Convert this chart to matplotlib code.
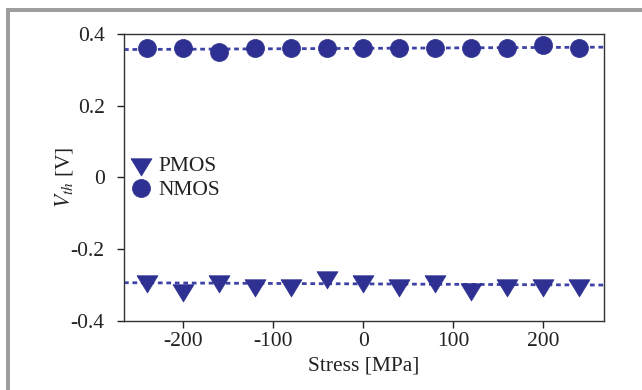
import numpy as np
import matplotlib
matplotlib.use("Agg")
import matplotlib.pyplot as plt
from matplotlib.patches import Rectangle

plt.rcParams['font.family'] = ['Liberation Serif', 'DejaVu Serif']
plt.rcParams['mathtext.fontset'] = 'stix'
plt.rcParams['axes.unicode_minus'] = False

# Data
stress = [-240, -200, -160, -120, -80, -40, 0, 40, 80, 120, 160, 200, 240]
vth_nmos = [0.360, 0.360, 0.350, 0.360, 0.360, 0.360, 0.360, 0.360, 0.360, 0.360, 0.360, 0.370, 0.360]
vth_pmos = [-0.288, -0.313, -0.288, -0.300, -0.300, -0.278, -0.288, -0.300, -0.288, -0.312, -0.300, -0.300, -0.300]
xticks = [-200, -100, 0, 100, 200]
yticks = [-0.4, -0.2, 0, 0.2, 0.4]
ytick_labels = ["-0.4", "-0.2", "0", "0.2", "0.4"]
xtick_labels = ["-200", "-100", "0", "100", "200"]

color = '#2e3192'
line_color = '#3d42a6'
text_color = '#222222'
fs = 15.5

fig = plt.figure(figsize=(6.42, 3.90), dpi=100)
ax = fig.add_axes([124/642, 1-321/390, (604-124)/642, (321-34)/390])

xlim = (-266, 268)
xs = np.array(xlim)

# down triangle with centroid at origin
tri = [(-11, 6), (11, 6), (0, -12), (-11, 6)]

for vals, mk, ms, lab in [(vth_pmos, tri, 16.5, 'PMOS'), (vth_nmos, 'o', 13.0, 'NMOS')]:
    p = np.polyfit(stress, vals, 1)
    ax.plot(xs, np.polyval(p, xs), linestyle=(0, (1.7, 1.35)), color=line_color,
            linewidth=2.0, zorder=2)
    ax.plot(stress, vals, linestyle='none', marker=mk, markersize=ms,
            markerfacecolor=color, markeredgecolor=color, markeredgewidth=0.5,
            label=lab, zorder=3)

ax.set_xlim(*xlim)
ax.set_ylim(-0.4, 0.4)
ax.set_xticks(xticks)
ax.set_xticklabels(xtick_labels)
ax.set_yticks(yticks)
ax.set_yticklabels(ytick_labels)
ax.tick_params(direction='out', length=5, width=1, labelsize=fs, colors=text_color)
ax.tick_params(axis='y', pad=9)
ax.tick_params(axis='x', pad=3)
for s in ax.spines.values():
    s.set_color('#333333')
    s.set_linewidth(1.0)

ax.set_xlabel('Stress [MPa]', fontsize=fs, color=text_color, labelpad=4)
ax.set_ylabel(r'$V_{th}$ [V]', fontsize=fs, color=text_color, labelpad=-3)

leg = ax.legend(loc='center left', bbox_to_anchor=(0.003, 0.497), frameon=False,
                fontsize=fs, handlelength=1.0, handletextpad=0.35,
                labelspacing=0.18, borderpad=0.2, borderaxespad=0.0)
for t in leg.get_texts():
    t.set_color(text_color)

# gray frame of the reference picture
gray = '#9e9e9e'
fig.add_artist(Rectangle((6/642, 0), 4/642, (390-8)/390, transform=fig.transFigure,
                         facecolor=gray, edgecolor='none'))
fig.add_artist(Rectangle((6/642, (390-12)/390), 1 - 6/642, 4/390, transform=fig.transFigure,
                         facecolor=gray, edgecolor='none'))

fig.savefig('out.png', dpi=100)
